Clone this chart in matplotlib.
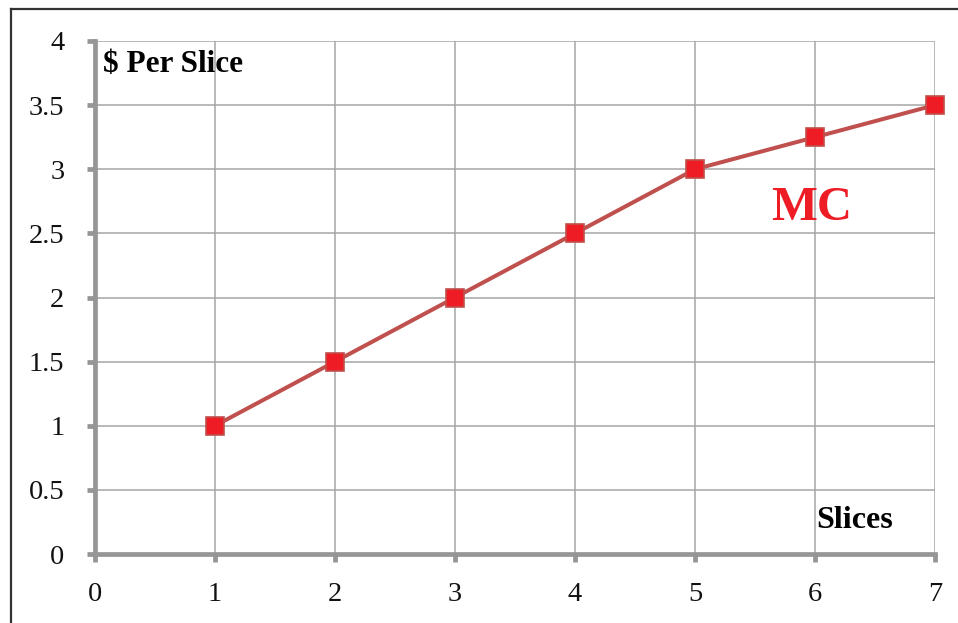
import matplotlib
matplotlib.use("Agg")
import matplotlib.pyplot as plt
from matplotlib.lines import Line2D

slices = [1, 2, 3, 4, 5, 6, 7]
mc_values = [1.0, 1.5, 2.0, 2.5, 3.0, 3.25, 3.5]
x_ticks = [0, 1, 2, 3, 4, 5, 6, 7]
y_ticks = [0, 0.5, 1, 1.5, 2, 2.5, 3, 3.5, 4]
y_tick_labels = ["0", "0.5", "1", "1.5", "2", "2.5", "3", "3.5", "4"]

plt.rcParams['font.family'] = ['Liberation Serif', 'DejaVu Serif']

W, H = 958, 623
fig = plt.figure(figsize=(W / 100, H / 100), dpi=100)
ax = fig.add_axes([95 / W, (H - 554) / H, 840 / W, 513 / H])

ax.plot(slices, mc_values, color='#c0504d', lw=2.9, marker='s', markersize=13.5,
        markerfacecolor='#ee1c24', markeredgecolor='#c0504d', markeredgewidth=1.2,
        zorder=5, clip_on=False)

ax.set_xlim(0, 7)
ax.set_ylim(0, 4)
ax.set_xticks(x_ticks)
ax.set_yticks(y_ticks)
ax.set_yticklabels(y_tick_labels)
ax.grid(True, color='#a6a6a6', lw=1.1)
ax.set_axisbelow(True)

for s in ['top', 'right']:
    ax.spines[s].set_visible(False)
for s in ['left', 'bottom']:
    ax.spines[s].set_color('#969696')
    ax.spines[s].set_linewidth(3.4)
    ax.spines[s].set_zorder(3)

ax.tick_params(axis='both', direction='out', length=6, width=3.4, color='#969696',
               labelsize=20.5, labelcolor='#111111')
ax.tick_params(axis='y', pad=16)
ax.tick_params(axis='x', pad=14)

ax.text(0.067, 3.82, "$ Per Slice", fontsize=22.5, fontweight='bold', color='black',
        ha='left', va='center')
ax.text(5.97, 2.70, "MC", fontsize=35, fontweight='bold', color='#ee1c24',
        ha='center', va='center')
ax.text(6.01, 0.265, "Slices", fontsize=23, fontweight='bold', color='black',
        ha='left', va='center')

# outer frame
fig.add_artist(Line2D([11 / W, 11 / W], [0, 1 - 9 / H], transform=fig.transFigure,
                      color='#333333', lw=1.6))
fig.add_artist(Line2D([11 / W, 1], [1 - 9 / H, 1 - 9 / H], transform=fig.transFigure,
                      color='#333333', lw=1.6))

fig.savefig("out.png", dpi=100)
